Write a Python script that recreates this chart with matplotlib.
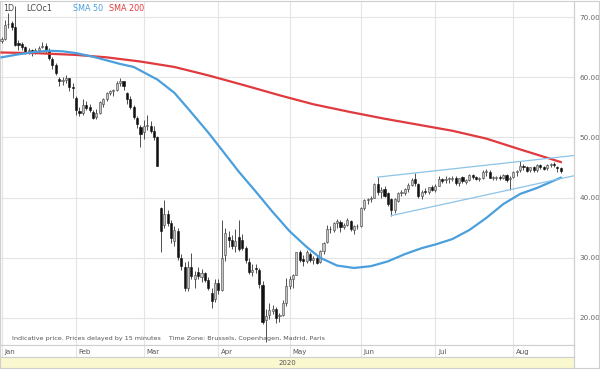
import matplotlib
matplotlib.use("Agg")
import matplotlib.pyplot as plt
import numpy as np
import pandas as pd

# trading days shown on the chart (Good Friday missing)
dates = pd.bdate_range("2020-01-02", "2020-08-21")
dates = dates[dates != pd.Timestamp("2020-04-10")]

# daily candles, Jan 2 .. Aug 21
opens = [66.0, 66.4, 68.8, 69.0, 68.4, 65.6, 65.5, 65.0, 64.3, 64.5, 64.0, 64.6, 65.0, 65.2, 64.6, 63.1, 62.0, 59.7, 59.4, 59.5, 59.8, 58.3,
         56.6, 54.4, 54.0, 55.3, 55.0, 54.2, 53.4, 54.0, 55.6, 56.3, 57.4, 57.7, 57.8, 59.1, 59.3, 57.4, 56.3, 55.1, 53.3, 51.8,
         50.9, 51.9, 51.9, 51.1, 50.0, 38.2, 35.5, 37.2, 35.8, 32.8, 34.5, 30.0, 28.5, 25.0, 28.5, 26.4, 27.6, 26.8, 27.4, 26.3, 24.1, 23.2,
         25.8, 24.7, 30.5, 33.5, 33.0, 31.9, 33.5, 33.0, 31.6, 29.3, 27.6, 28.3, 28.0, 25.5, 19.6, 20.5, 21.2, 21.5, 20.4, 20.5, 22.5,
         25.3, 26.4, 27.2, 31.0, 29.8, 29.5, 30.7, 29.6, 30.0, 29.3, 31.1, 32.6, 34.8, 34.6, 35.8, 36.0, 35.1, 35.5, 36.1, 34.6, 35.2,
         35.3, 38.3, 39.6, 39.8, 40.0, 42.3, 40.9, 41.4, 40.7, 39.8, 38.0, 39.5, 40.7, 40.8, 41.4, 42.1, 43.0, 42.2, 40.3, 41.1, 40.9, 41.7,
         41.3, 42.0, 43.1, 42.9, 43.1, 43.0, 43.3, 42.4, 43.4, 42.6, 42.9, 43.8, 43.4, 43.1, 43.3, 44.3, 44.3, 43.3, 43.3, 43.4, 43.2, 43.8, 43.0,
         43.4, 44.2, 44.5, 45.2, 45.1, 44.5, 45.0, 44.6, 45.4, 45.0, 44.9, 45.4, 45.5, 45.0, 44.9]
highs = [66.6, 69.5, 70.7, 69.3, 71.75, 66.2, 65.8, 65.1, 64.9, 64.7, 64.9, 65.1, 65.9, 65.6, 64.8, 63.3, 62.4, 60.1, 60.0, 60.3, 59.9, 59.1,
         56.9, 55.0, 56.4, 56.0, 55.6, 54.5, 54.7, 56.0, 56.5, 57.5, 57.8, 58.1, 59.3, 59.8, 59.4, 57.5, 56.8, 55.3, 53.6, 52.0,
         52.9, 53.8, 52.8, 51.9, 50.3, 38.4, 39.6, 37.9, 36.2, 35.2, 35.0, 30.6, 29.3, 29.4, 30.8, 27.8, 28.5, 28.1, 27.7, 26.8, 24.9, 26.5,
         26.4, 36.3, 34.9, 34.5, 33.8, 34.7, 36.3, 34.0, 32.0, 29.9, 28.9, 29.0, 28.3, 26.1, 21.5, 22.5, 22.1, 21.8, 20.9, 22.9, 26.6,
         26.9, 27.3, 31.0, 31.3, 30.5, 31.3, 31.0, 30.3, 30.5, 31.3, 32.6, 35.5, 35.2, 35.9, 36.5, 36.2, 35.8, 36.6, 36.2, 35.4, 35.6,
         38.4, 39.7, 40.0, 40.2, 42.4, 43.4, 41.8, 41.9, 41.0, 40.0, 39.9, 41.0, 41.2, 41.6, 42.4, 43.2, 44.1, 42.4, 41.2, 41.6, 41.8, 42.1,
         42.3, 43.5, 43.3, 43.6, 43.4, 43.5, 43.5, 43.3, 43.6, 43.0, 43.9, 43.9, 43.5, 43.4, 44.5, 44.7, 44.5, 43.6, 43.6, 43.7, 43.9, 43.9, 43.6,
         44.4, 44.6, 46.0, 45.6, 45.2, 45.1, 45.3, 45.5, 45.6, 45.2, 45.5, 45.7, 45.9, 45.2, 45.0]
lows = [65.6, 66.1, 68.2, 67.9, 65.2, 64.6, 64.6, 63.9, 63.8, 63.6, 63.8, 64.3, 64.8, 64.1, 62.9, 61.3, 60.4, 58.5, 58.7, 59.0, 57.7, 56.6,
        53.7, 53.6, 53.7, 54.6, 54.2, 53.1, 53.1, 53.9, 55.0, 56.1, 57.0, 56.9, 57.7, 58.6, 57.8, 55.6, 54.7, 53.1, 51.6, 48.4,
        49.7, 51.3, 50.7, 49.5, 45.2, 31.0, 35.0, 35.2, 32.5, 32.0, 29.6, 28.0, 24.5, 24.5, 26.5, 25.0, 26.5, 25.9, 25.9, 24.6, 21.7, 22.6,
        24.0, 24.5, 29.5, 31.8, 31.5, 31.0, 31.2, 31.3, 29.2, 27.3, 27.0, 27.5, 25.0, 19.0, 16.0, 19.8, 20.7, 19.2, 19.4, 20.3, 22.0,
        24.8, 24.9, 27.1, 29.3, 28.7, 29.2, 29.3, 28.9, 29.0, 29.1, 30.7, 32.5, 34.1, 34.2, 35.0, 34.3, 34.8, 35.3, 34.4, 34.0, 34.8,
        35.1, 37.9, 38.9, 39.2, 39.9, 40.5, 40.0, 40.1, 38.6, 37.0, 37.4, 39.2, 40.2, 40.4, 40.9, 41.9, 41.9, 39.9, 39.8, 40.6, 40.6, 41.1,
        41.0, 41.9, 42.5, 42.5, 42.5, 42.7, 42.1, 42.0, 42.5, 42.3, 42.8, 43.0, 42.9, 42.7, 43.1, 43.6, 43.3, 42.9, 42.9, 42.9, 43.0, 42.6, 41.3,
        43.2, 43.6, 44.3, 44.6, 44.2, 44.2, 44.3, 44.2, 44.8, 44.5, 44.6, 45.1, 45.0, 44.3, 44.0]
closes = [66.3, 68.6, 68.9, 68.3, 65.4, 65.4, 65.0, 64.2, 64.5, 64.0, 64.6, 64.9, 65.2, 64.6, 63.2, 62.0, 60.7, 59.3, 59.5, 59.8, 58.3, 58.2,
          54.5, 54.0, 55.3, 54.9, 54.5, 53.3, 54.0, 55.8, 56.3, 57.3, 57.7, 57.8, 59.1, 59.3, 58.5, 56.3, 55.0, 53.4, 52.2, 50.5,
          51.9, 51.9, 51.1, 50.0, 45.3, 34.4, 37.2, 35.8, 33.2, 34.6, 30.1, 28.7, 24.9, 28.5, 27.0, 27.1, 26.9, 27.4, 26.3, 24.9, 22.8, 25.8,
          24.7, 29.9, 34.1, 33.0, 31.9, 32.8, 31.5, 31.7, 29.6, 27.7, 28.0, 28.1, 25.6, 19.3, 20.4, 21.3, 21.4, 20.0, 20.5, 22.5, 25.3,
          26.4, 27.2, 31.0, 29.7, 29.5, 31.0, 29.6, 30.0, 29.2, 31.1, 32.5, 34.8, 34.7, 35.8, 36.1, 35.1, 35.5, 36.2, 34.7, 35.3, 35.3,
          38.3, 39.6, 39.8, 40.0, 42.3, 40.9, 41.3, 40.3, 38.9, 38.0, 39.7, 40.7, 40.9, 41.4, 42.1, 42.9, 42.4, 40.3, 41.0, 41.0, 41.7, 41.2,
          42.0, 43.1, 42.8, 43.1, 43.1, 43.3, 42.4, 43.2, 42.7, 42.9, 43.8, 43.4, 43.1, 43.3, 44.3, 44.3, 43.3, 43.3, 43.4, 43.2, 43.8, 42.9, 43.3,
          44.2, 44.4, 45.2, 45.1, 44.4, 45.0, 44.5, 45.4, 45.0, 44.8, 45.4, 45.5, 45.4, 44.9, 44.4]

# moving averages
sma50_dates = ["2020-01-02", "2020-01-09", "2020-01-16", "2020-01-22", "2020-01-28", "2020-02-03", "2020-02-10", "2020-02-14",
               "2020-02-20", "2020-02-26", "2020-03-02", "2020-03-06", "2020-03-13", "2020-03-19", "2020-03-27", "2020-04-03",
               "2020-04-09", "2020-04-17", "2020-04-24", "2020-05-01", "2020-05-08", "2020-05-14", "2020-05-21", "2020-05-28",
               "2020-06-04", "2020-06-11", "2020-06-18", "2020-06-25", "2020-07-01", "2020-07-08", "2020-07-15", "2020-07-22",
               "2020-07-29", "2020-08-05", "2020-08-12", "2020-08-21"]
sma50_vals = [63.3, 63.8, 64.2, 64.4, 64.3, 64.0, 63.4, 62.8,
              62.2, 61.7, 60.8, 59.6, 57.4, 54.8, 50.8, 47.2,
              44.3, 41.0, 37.6, 34.4, 31.8, 30.0, 28.7, 28.3,
              28.6, 29.4, 30.6, 31.6, 32.2, 33.1, 34.6, 36.6,
              38.9, 40.6, 41.6, 43.3]
sma200_dates = ["2020-01-02", "2020-01-16", "2020-02-03", "2020-02-14", "2020-02-28", "2020-03-13", "2020-03-27",
                "2020-04-14", "2020-04-28", "2020-05-12", "2020-05-27", "2020-06-10", "2020-06-24", "2020-07-08",
                "2020-07-22", "2020-08-05", "2020-08-21"]
sma200_vals = [64.1, 64.0, 63.7, 63.3, 62.6, 61.7, 60.3,
               58.6, 57.0, 55.5, 54.2, 53.1, 52.1, 51.1,
               49.8, 48.0, 45.9]

# hand drawn trend lines (anchor points)
upper_line = [("2020-06-08", 43.4), ("2020-08-05", 46.0)]
lower_line = [("2020-06-12", 37.0), ("2020-07-31", 41.3)]

months = ["Jan", "Feb", "Mar", "Apr", "May", "Jun", "Jul", "Aug"]
price_ticks = [20, 30, 40, 50, 60, 70]

x = np.arange(len(dates))
o = np.array(opens); h = np.array(highs); l = np.array(lows); c = np.array(closes)
def pos(d):
    return dates.get_loc(pd.Timestamp(d))

fig = plt.figure(figsize=(6, 3.7), dpi=100)
fig.patch.set_facecolor("white")
xlim = (-0.45, 168.9)
grid_c = "#e4e4e4"
frame_c = "#cfcfcf"

ax = fig.add_axes([0.0, 370 / 370 - 345 / 370, 574 / 600, 344 / 370])
ax.set_xlim(*xlim)
ax.set_ylim(15.5, 72.66)

month_idx = [np.where(dates.month == m)[0][0] for m in range(1, 9)]
for mi in month_idx:
    ax.axvline(mi, color=grid_c, lw=0.8, zorder=0)
for t in price_ticks:
    ax.axhline(t, color=grid_c, lw=0.8, zorder=0)

# candles
up = c >= o
ax.vlines(x, l, h, color="#333333", lw=0.6, zorder=2)
body_lo = np.minimum(o, c)
body_h = np.maximum(np.abs(c - o), 0.12)
ax.bar(x[up], body_h[up], bottom=body_lo[up], width=0.62, color="#c4c4c4", edgecolor="#444444", lw=0.4, zorder=3)
ax.bar(x[~up], body_h[~up], bottom=body_lo[~up], width=0.62, color="#111111", edgecolor="#111111", lw=0.4, zorder=3)

# moving averages
ax.plot([pos(d) for d in sma200_dates], sma200_vals, color="#e03a3e", lw=1.6, zorder=4)
ax.plot([pos(d) for d in sma50_dates], sma50_vals, color="#4a9fdc", lw=1.6, zorder=4)

# trend lines extended to the right edge
for pts in (upper_line, lower_line):
    (d0, v0), (d1, v1) = pts
    x0, x1 = pos(d0), pos(d1)
    slope = (v1 - v0) / (x1 - x0)
    ax.plot([x0, xlim[1]], [v0, v0 + slope * (xlim[1] - x0)], color="#8cc3e8", lw=0.9, zorder=4)

ax.yaxis.tick_right()
ax.set_yticks(price_ticks)
ax.set_yticklabels([f"{t:.2f}" for t in price_ticks], fontsize=5.2, color="#666666")
ax.tick_params(axis="y", length=0, pad=4)
ax.set_xticks([])
for s in ax.spines.values():
    s.set_color(frame_c)
    s.set_linewidth(0.8)

ax.text(0.006, 0.977, "1D", transform=ax.transAxes, fontsize=5.8, color="#444444", va="center")
ax.text(0.046, 0.977, "LCOc1", transform=ax.transAxes, fontsize=5.8, color="#444444", va="center")
ax.text(0.127, 0.977, "SMA 50", transform=ax.transAxes, fontsize=5.8, color="#4a9fdc", va="center")
ax.text(0.19, 0.977, "SMA 200", transform=ax.transAxes, fontsize=5.8, color="#e03a3e", va="center")
ax.text(0.021, 0.013, "Indicative price. Prices delayed by 15 minutes    Time Zone: Brussels, Copenhagen, Madrid, Paris",
        transform=ax.transAxes, fontsize=4.6, color="#555555", va="bottom")

# month row
axm = fig.add_axes([0.0, 13 / 370, 574 / 600, 12 / 370])
axm.set_xlim(*xlim)
axm.set_ylim(0, 1)
for mi, name in zip(month_idx, months):
    axm.axvline(mi, color=grid_c, lw=0.8)
    axm.text(mi + 0.8, 0.45, name, fontsize=5, color="#555555", va="center", ha="left")
axm.set_xticks([]); axm.set_yticks([])
for s in axm.spines.values():
    s.set_color(frame_c)
    s.set_linewidth(0.8)

# year band
axy = fig.add_axes([0.0, 2 / 370, 574 / 600, 11 / 370])
axy.set_facecolor("#f9f8cf")
axy.set_xticks([]); axy.set_yticks([])
axy.text(0.5, 0.45, "2020", transform=axy.transAxes, fontsize=5, color="#555555", ha="center", va="center")
for s in axy.spines.values():
    s.set_color(frame_c)
    s.set_linewidth(0.8)

# frame around the price label column
fig.add_artist(plt.Rectangle((574 / 600, 2 / 370), 25 / 600, 367 / 370, transform=fig.transFigure,
                             fill=False, edgecolor=frame_c, lw=0.8))

fig.savefig("out.png", dpi=100)
